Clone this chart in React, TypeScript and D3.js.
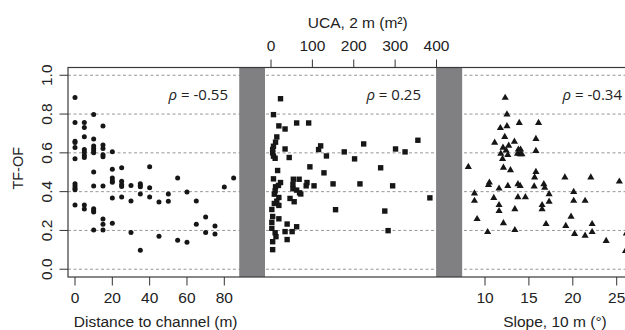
import React from "react";
import * as d3 from "d3";

// ---- Data ----
const distX = [
  0, 0, 0, 0, 0, 0, 0, 0, 0, 0, 0,
  5, 5, 5, 5, 5, 5, 5, 5, 5,
  10, 10, 10, 10, 10, 10, 10, 10, 10, 10, 10, 10,
  15, 15, 15, 15, 15, 15, 15, 15, 15,
  20, 20, 20, 20, 20, 20, 20,
  25, 25, 25, 25, 25,
  30, 30, 30,
  35, 35, 35, 35, 35,
  40, 40, 40,
  45, 45,
  50, 50,
  55, 55,
  60, 60,
  65, 65,
  70, 70,
  75, 75,
  80,
  85,
];
const distTF = [
  0.885, 0.756, 0.66, 0.654, 0.628, 0.569, 0.441, 0.429, 0.417, 0.41, 0.331,
  0.756, 0.731, 0.683, 0.617, 0.604, 0.588, 0.576, 0.331, 0.31,
  0.798, 0.672, 0.635, 0.623, 0.611, 0.6, 0.501, 0.429, 0.312, 0.302, 0.295, 0.202,
  0.739, 0.64, 0.623, 0.59, 0.58, 0.429, 0.259, 0.232, 0.202,
  0.606, 0.515, 0.47, 0.456, 0.448, 0.367, 0.237,
  0.523, 0.453, 0.437, 0.427, 0.372,
  0.432, 0.352, 0.19,
  0.441, 0.432, 0.425, 0.388, 0.098,
  0.528, 0.42, 0.372,
  0.346, 0.17,
  0.388, 0.35,
  0.47, 0.149,
  0.398, 0.139,
  0.352, 0.232,
  0.269, 0.19,
  0.223, 0.182,
  0.424,
  0.47,
];

const ucaX = [
  23, 6, 19, 34, 62, 91, 14, 11, 6, 4, 4, 6, 10, 34, 44,
  115, 120, 134, 177, 202, 224, 301, 324, 355,
  94, 128, 265, 16, 6, 23, 18, 11, 10, 8, 19, 14, 8, 19, 2, 4, 19, 2, 2, 10, 12, 4, 4,
  39, 34, 51, 39, 62,
  54, 68, 53, 53, 62, 72, 85, 87, 69,
  104, 150, 215, 294, 46, 56, 156, 275, 283, 384,
];
const ucaTF = [
  0.879, 0.797, 0.739, 0.723, 0.754, 0.754, 0.682, 0.655, 0.634, 0.617, 0.6, 0.583, 0.572, 0.62, 0.576,
  0.617, 0.636, 0.584, 0.605, 0.569, 0.646, 0.62, 0.605, 0.665,
  0.528, 0.497, 0.523, 0.509, 0.466, 0.447, 0.432, 0.425, 0.404, 0.387, 0.37, 0.351, 0.339, 0.329, 0.308, 0.272, 0.26, 0.242, 0.211, 0.188, 0.168, 0.142, 0.101,
  0.233, 0.194, 0.194, 0.153, 0.219,
  0.464, 0.464, 0.437, 0.415, 0.408, 0.388, 0.43, 0.447, 0.394,
  0.43, 0.44, 0.44, 0.43, 0.365, 0.348, 0.307, 0.3, 0.199, 0.368,
];

const slopeX = [
  12.3, 12.5, 13.9, 16.1, 11.75, 12.5, 12.25, 11.1, 13.35, 15.8, 15.8, 12.7, 12.05, 12.4, 11.8, 12.6, 12.0,
  13.8, 14.05, 13.7, 14.0, 14.2,
  8.1, 12.1, 12.9, 15.8, 15.65, 19.1, 22.05, 25.3,
  10.5, 10.4, 12.6, 11.6, 13.75, 14.0, 15.6, 16.7, 16.8,
  8.8, 8.8, 11.0, 13.75, 14.6, 17.3, 17.3, 20.1, 20.1, 21.4,
  11.6, 11.6, 13.4, 16.5, 16.5,
  9.1, 12.1, 16.95, 19.8, 19.2, 22.2,
  10.3, 13.4, 20.2, 21.4, 22.2, 23.8, 26.1, 26.0,
];
const slopeTF = [
  0.884, 0.798, 0.754, 0.754, 0.728, 0.738, 0.682, 0.653, 0.658, 0.672, 0.61, 0.637, 0.627, 0.613, 0.596, 0.589, 0.569,
  0.617, 0.617, 0.596, 0.593, 0.593,
  0.528, 0.524, 0.511, 0.502, 0.473, 0.473, 0.473, 0.452,
  0.447, 0.434, 0.43, 0.416, 0.439, 0.43, 0.427, 0.439, 0.42,
  0.391, 0.353, 0.368, 0.372, 0.372, 0.387, 0.348, 0.399, 0.353, 0.353,
  0.331, 0.3, 0.31, 0.331, 0.31,
  0.259, 0.238, 0.233, 0.271, 0.223, 0.233,
  0.192, 0.202, 0.182, 0.173, 0.192, 0.146, 0.185, 0.094,
];

const yTicks = [0, 0.2, 0.4, 0.6, 0.8, 1.0];
const distTicks = [0, 20, 40, 60, 80];
const ucaTicks = [0, 100, 200, 300, 400];
const slopeTicks = [10, 15, 20, 25];
const rhoLabels = ["-0.55", "0.25", "-0.34"];

// ---- Layout ----
const W = 625;
const H = 330;
const boxL = 68;
const boxT = 67.5;
const boxB = 277;
const boxR = 660;

const y = d3.scaleLinear().domain([-0.04, 1.04]).range([boxB, boxT]);
const xDist = d3.scaleLinear().domain([0, 80]).range([75, 224.3]);
const xUca = d3.scaleLinear().domain([0, 400]).range([271, 436.5]);
const xSlope = d3.scaleLinear().domain([10, 25]).range([485, 616.7]);

const bands: [number, number][] = [
  [xDist(88), xUca(-14.5)],
  [xUca(399), xSlope(7.4)],
];

const axisFont = "'Liberation Sans', Arial, sans-serif";
const rhoFont = "'Open Sans', 'Noto Sans', sans-serif";
const ink = "#161616";

const tri = d3.symbol().type(d3.symbolTriangle).size(22)();

export default function App() {
  return (
    <svg
      width={W}
      height={H}
      style={{ position: "absolute", left: 0, top: 0, background: "#fff" }}
      fontFamily={axisFont}
    >
      <rect x={0} y={0} width={W} height={H} fill="#fff" />
      {/* gridlines */}
      {yTicks.map((t) => (
        <line
          key={"g" + t}
          x1={boxL}
          x2={W}
          y1={y(t)}
          y2={y(t)}
          stroke="#8c8c8c"
          strokeWidth={0.9}
          strokeDasharray="3,2.5"
        />
      ))}
      {/* grey bands */}
      {bands.map(([a, b], i) => (
        <rect key={"b" + i} x={a} y={boxT} width={b - a} height={boxB - boxT} fill="#808083" />
      ))}
      {/* box frame */}
      <rect
        x={boxL}
        y={boxT}
        width={boxR - boxL}
        height={boxB - boxT}
        fill="none"
        stroke="#3a3a3a"
        strokeWidth={1.2}
      />

      {/* markers: distance (circles) */}
      {distX.map((d, i) => (
        <circle key={"c" + i} cx={xDist(d)} cy={y(distTF[i])} r={2.5} fill={ink} />
      ))}
      {/* UCA (squares) */}
      {ucaX.map((d, i) => (
        <rect
          key={"s" + i}
          x={xUca(d) - 2.7}
          y={y(ucaTF[i]) - 2.7}
          width={5.4}
          height={5.4}
          fill={ink}
        />
      ))}
      {/* slope (triangles) */}
      {slopeX.map((d, i) => (
        <path
          key={"t" + i}
          d={tri as string}
          transform={`translate(${xSlope(d)},${y(slopeTF[i])})`}
          fill={ink}
        />
      ))}

      {/* y axis */}
      {yTicks.map((t) => (
        <g key={"y" + t}>
          <line x1={boxL - 8.5} x2={boxL} y1={y(t)} y2={y(t)} stroke="#333" strokeWidth={1} />
          <text
            transform={`translate(46,${y(t)}) rotate(-90)`}
            textAnchor="middle"
            dominantBaseline="central"
            fontSize={15.5}
            fill="#222"
          >
            {t.toFixed(1)}
          </text>
        </g>
      ))}
      <text
        transform={`translate(18,${(boxT + boxB) / 2 - 4}) rotate(-90)`}
        textAnchor="middle"
        dominantBaseline="central"
        fontSize={14.5}
        fill="#222"
      >
        TF-OF
      </text>

      {/* bottom axis: distance */}
      {distTicks.map((t) => (
        <g key={"d" + t}>
          <line x1={xDist(t)} x2={xDist(t)} y1={boxB} y2={boxB + 8.5} stroke="#333" strokeWidth={1} />
          <text x={xDist(t)} y={297} textAnchor="middle" dominantBaseline="central" fontSize={15.5} fill="#222">
            {t}
          </text>
        </g>
      ))}
      <text x={(xDist(0) + xDist(80)) / 2 + 6} y={321} textAnchor="middle" dominantBaseline="central" fontSize={15.5} fill="#222">
        Distance to channel (m)
      </text>

      {/* top axis: UCA */}
      {ucaTicks.map((t) => (
        <g key={"u" + t}>
          <line x1={xUca(t)} x2={xUca(t)} y1={boxT} y2={boxT - 8} stroke="#333" strokeWidth={1} />
          <text x={xUca(t)} y={45.5} textAnchor="middle" dominantBaseline="central" fontSize={15.5} fill="#222">
            {t}
          </text>
        </g>
      ))}
      <text x={xUca(200) + 4} y={22} textAnchor="middle" dominantBaseline="central" fontSize={15.5} fill="#222">
        UCA, 2 m (m²)
      </text>

      {/* bottom axis: slope */}
      {slopeTicks.map((t) => (
        <g key={"sl" + t}>
          <line x1={xSlope(t)} x2={xSlope(t)} y1={boxB} y2={boxB + 8.5} stroke="#333" strokeWidth={1} />
          <text x={xSlope(t)} y={297} textAnchor="middle" dominantBaseline="central" fontSize={15.5} fill="#222">
            {t}
          </text>
        </g>
      ))}
      <text x={555} y={321} textAnchor="middle" dominantBaseline="central" fontSize={15.5} fill="#222">
        Slope, 10 m (°)
      </text>

      {/* rho labels */}
      {[228, 421, 622].map((xr, i) => (
        <text
          key={"r" + i}
          x={xr}
          y={93.5}
          textAnchor="end"
          dominantBaseline="central"
          fontSize={15}
          fontFamily={rhoFont}
          fill="#222"
        >
          <tspan fontStyle="italic">ρ</tspan>
          {" = " + rhoLabels[i]}
        </text>
      ))}
    </svg>
  );
}
